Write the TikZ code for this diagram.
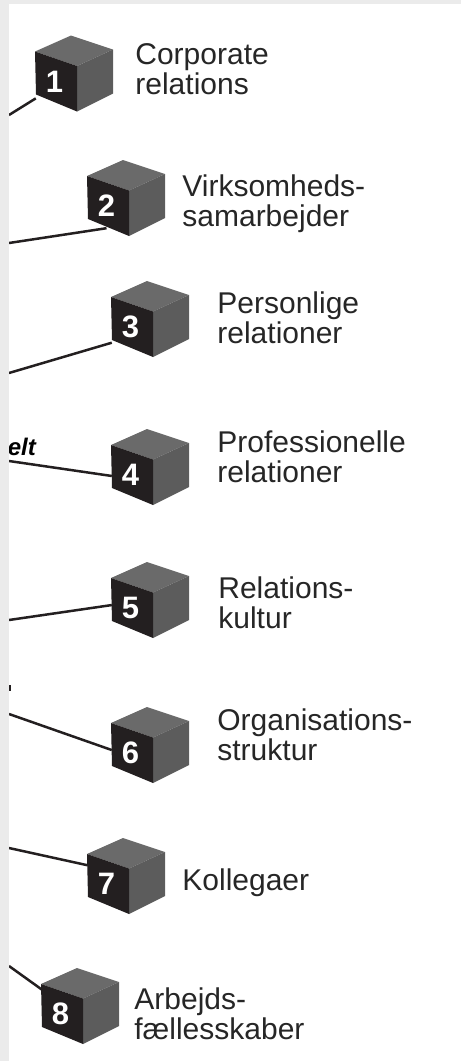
\documentclass[tikz,border=0pt]{standalone}
\usepackage{fontspec}
\setmainfont{Liberation Sans}
\usetikzlibrary{positioning}
\definecolor{cubefront}{HTML}{231F20}
\definecolor{cubetop}{HTML}{6A6A6A}
\definecolor{cuberight}{HTML}{5C5C5C}
\definecolor{margin}{HTML}{EBEBEB}
\tikzset{
  cubelabel/.style={align=left, inner sep=0pt, font=\fontsize{30}{30}\selectfont, text=black!85},
  cubenum/.style={minimum width=37pt, minimum height=44pt, inner sep=0pt, text=white, font=\fontsize{31}{31}\bfseries\selectfont},
  link/.style={line width=2.5pt, color=cubefront}
}
\newcommand{\cubenode}[4]{%
  \fill[cubetop] (#2,#3) -- ++(36,-16) -- ++(42,14) -- ++(-36,16.5) -- cycle;
  \fill[cuberight] (#2+42,#3+14.5) -- ++(36,-16.5) -- ++(0,44) -- ++(-36,18) -- cycle;
  \fill[cubefront] (#2,#3) -- ++(42,14.5) -- ++(0,45.5) -- ++(-41,-17) -- cycle;
  \node[cubenum] (#1) at (#2+19.5,#3+30) {#4};
}
\begin{document}
\begin{tikzpicture}[x=1pt, y=-1pt]
  \useasboundingbox (0,0) rectangle (461,1061);

  \cubenode{c1}{35}{51.5}{1}
  \cubenode{c2}{87}{176}{2}
  \cubenode{c3}{111}{297}{3}
  \cubenode{c4}{111}{445}{4}
  \cubenode{c5}{111}{578}{5}
  \cubenode{c6}{111}{723}{6}
  \cubenode{c7}{87}{854}{7}
  \cubenode{c8}{41}{984}{8}

  \node[cubelabel, right=62pt of c1, yshift=12pt] (l1) {Corporate\\relations};
  \node[cubelabel, right=57pt of c2, yshift=2pt] (l2) {Virksomheds-\\samarbejder};
  \node[cubelabel, right=68pt of c3, yshift=9pt] (l3) {Personlige\\relationer};
  \node[cubelabel, right=68pt of c4, yshift=18pt] (l4) {Professionelle\\relationer};
  \node[cubelabel, right=69pt of c5, yshift=5pt] (l5) {Relations-\\kultur};
  \node[cubelabel, right=68pt of c6, yshift=18pt] (l6) {Organisations-\\struktur};
  \node[cubelabel, right=57pt of c7, yshift=1pt] (l7) {Kollegaer};
  \node[cubelabel, right=55pt of c8] (l8) {Arbejds-\\fællesskaber};

  \coordinate (e1) at (9,115);
  \coordinate (e2) at (9,243);
  \coordinate (e3) at (9,373);
  \coordinate (e4) at (9,461);
  \coordinate (e5) at (9,620);
  \coordinate (e6) at (9,714);
  \coordinate (e7) at (9,848);
  \coordinate (e8) at (9,966);

  \draw[link] (e1) -- (c1.222);
  \draw[link] (e2) -- (c2.270);
  \draw[link] (e3) -- (c3.220);
  \draw[link] (e4) -- (c4.183);
  \draw[link] (e5) -- (c5.171);
  \draw[link] (e6) -- (c6.171);
  \draw[link] (e7) -- (c7.135);
  \draw[link] (e8) -- (c8.125);

  \node[anchor=east, inner sep=0pt, font=\fontsize{24}{24}\bfseries\itshape\selectfont] (cut) at (36,447) {elt};
  \fill[cubefront] (9,685) rectangle (10.5,691);

  % margins of the scan
  \fill[margin] (0,0) rectangle (9,1061);
  \fill[margin] (0,0) rectangle (461,4);
\end{tikzpicture}
\end{document}
